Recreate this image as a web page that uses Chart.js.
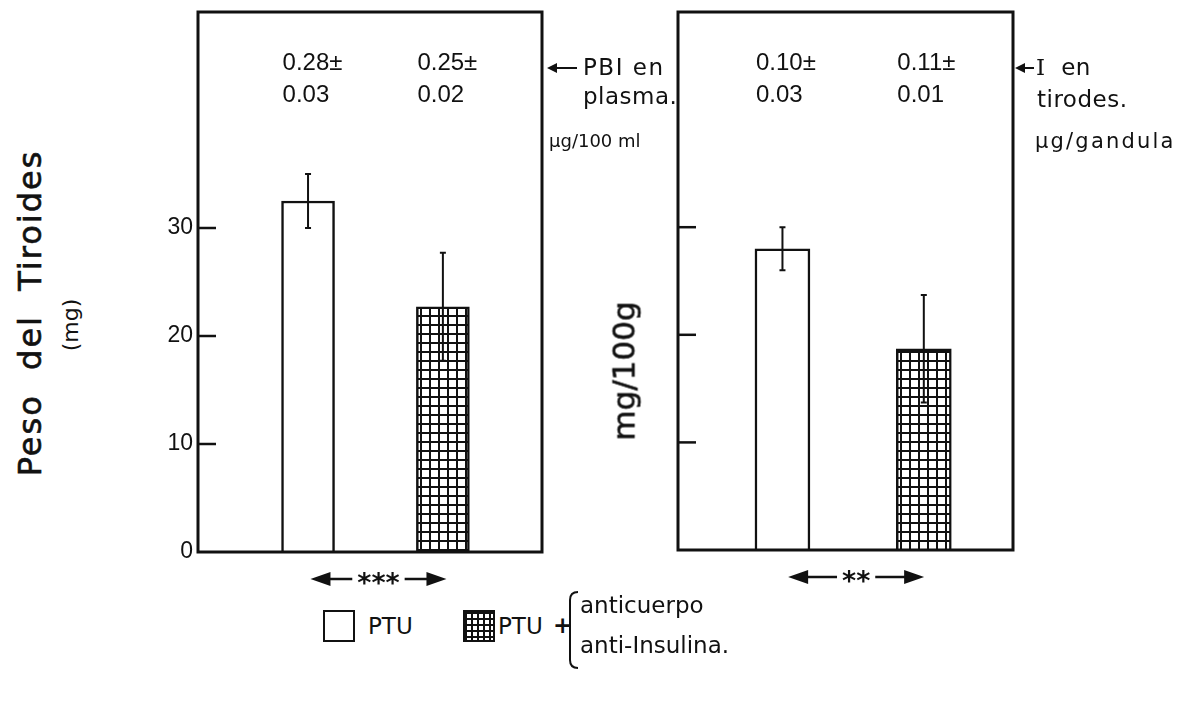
<!DOCTYPE html>
<html>
<head>
<meta charset="utf-8">
<script src="https://cdn.jsdelivr.net/npm/chart.js@4.4.1/dist/chart.umd.min.js"></script>
<style>
  body { margin: 0; background: #fff; }
  #page { position: relative; width: 1195px; height: 701px; overflow: hidden; background: #fff; color: #111; }
  .abs { position: absolute; white-space: nowrap; line-height: 1; }
  .note { font-family: "DejaVu Sans", sans-serif; font-size: 23px; letter-spacing: 0.5px; }
  .unit { font-family: "DejaVu Sans", sans-serif; font-size: 18px; }
  .rot { transform: translate(-50%, -50%) rotate(-90deg); }
  .leg { font-family: "DejaVu Sans", sans-serif; font-size: 23px; }
  .box { position: absolute; width: 28px; height: 28px; border: 2px solid #111; background: #fff; }
  .hatch {
    background-color: #fff;
    background-image: linear-gradient(#111 2px, transparent 2px), linear-gradient(90deg, #111 2px, transparent 2px);
    background-size: 6px 6px;
  }
  canvas { position: absolute; }
</style>
</head>
<body>
<div id="page">
  <canvas id="leftChart" style="left:150px; top:0px;" width="400" height="600"></canvas>
  <canvas id="rightChart" style="left:630px; top:0px;" width="395" height="600"></canvas>

  <!-- axis titles -->
  <div class="abs rot" style="left:30px; top:313px; font-family:'DejaVu Sans',sans-serif; font-size:32px; letter-spacing:2px; -webkit-text-stroke:0.6px #111;">Peso&nbsp; del&nbsp; Tiroides</div>
  <div class="abs rot" style="left:71px; top:325px; font-family:'DejaVu Sans',sans-serif; font-size:22px;">(mg)</div>
  <div class="abs rot" style="left:624px; top:371px; font-family:'DejaVu Sans',sans-serif; font-size:31px; -webkit-text-stroke:0.6px #111;">mg/100g</div>

  <!-- side notes -->
  <svg class="abs" style="left:547px; top:62px;" width="32" height="12"><polygon points="0,6 10,1 10,11" fill="#111"/><line x1="8" y1="6" x2="30" y2="6" stroke="#111" stroke-width="2"/></svg>
  <div class="abs note" style="left:583px; top:56px; letter-spacing:1.5px;">PBI en</div>
  <div class="abs note" style="left:583px; top:85px;">plasma.</div>
  <div class="abs unit" style="left:549px; top:132px;">µg/100 ml</div>

  <svg class="abs" style="left:1015px; top:62px;" width="20" height="12"><polygon points="0,6 10,1 10,11" fill="#111"/><line x1="8" y1="6" x2="19" y2="6" stroke="#111" stroke-width="2"/></svg>
  <div class="abs note" style="left:1036px; top:56px; font-family:'DejaVu Serif',serif;">I&nbsp; <span style="font-family:'DejaVu Sans',sans-serif;">en</span></div>
  <div class="abs note" style="left:1037px; top:88px;">tirodes.</div>
  <div class="abs unit" style="left:1035px; top:131px; font-size:21px; letter-spacing:2.2px;">µg/gandula</div>

  <!-- legend -->
  <div class="box" style="left:323px; top:610px;"></div>
  <div class="abs leg" style="left:368px; top:615px;">PTU</div>
  <div class="box hatch" style="left:463px; top:610px;"></div>
  <div class="abs leg" style="left:498px; top:615px;">PTU</div>
  <div class="abs leg" style="left:553px; top:614px; font-weight:bold;">+</div>
  <svg class="abs" style="left:566px; top:590px;" width="14" height="80"><path d="M12,2 Q4,2 4,10 L4,70 Q4,78 12,78" fill="none" stroke="#111" stroke-width="2"/></svg>
  <div class="abs leg" style="left:580px; top:594px;">anticuerpo</div>
  <div class="abs leg" style="left:580px; top:634px;">anti-Insulina.</div>
</div>

<script>
// groups and values
const categories = ['PTU', 'PTU + anticuerpo anti-Insulina'];

// left panel: thyroid weight (mg)
const pesoMean = [32.5, 22.7];
const pesoErr = [2.5, 5.0];
const pbiMean = ['0.28±', '0.25±'];
const pbiErr = ['0.03', '0.02'];

// right panel: mg/100g
const relMean = [28.0, 18.7];
const relErr = [2.0, 5.0];
const iodoMean = ['0.10±', '0.11±'];
const iodoErr = ['0.03', '0.01'];

const sigLeft = '***';
const sigRight = '**';

const yTicks = [0, 10, 20, 30];

// crossed pattern for the anti-insulin bars
function gridPattern() {
    var c = document.createElement('canvas');
    c.width = 9;
    c.height = 9;
    var g = c.getContext('2d');
    g.fillStyle = '#fff';
    g.fillRect(0, 0, 9, 9);
    g.fillStyle = '#111';
    g.fillRect(0, 0, 9, 2);
    g.fillRect(0, 0, 2, 9);
    return g.createPattern(c, 'repeat');
}

// frame, inner ticks, error bars, value notes and significance arrows
const panelPlugin = {
    id: 'panel',
    afterDatasetsDraw(chart, args, opts) {
        const ctx = chart.ctx;
        const area = chart.chartArea;
        const y = chart.scales.y;
        const meta = chart.getDatasetMeta(0);
        ctx.save();
        ctx.strokeStyle = '#111';
        ctx.fillStyle = '#111';

        // error bars
        ctx.lineWidth = 2;
        meta.data.forEach((bar, i) => {
            const top = y.getPixelForValue(opts.mean[i] + opts.err[i]);
            const bot = y.getPixelForValue(opts.mean[i] - opts.err[i]);
            ctx.beginPath();
            ctx.moveTo(bar.x, top);
            ctx.lineTo(bar.x, bot);
            ctx.moveTo(bar.x - 3, top);
            ctx.lineTo(bar.x + 3, top);
            ctx.moveTo(bar.x - 3, bot);
            ctx.lineTo(bar.x + 3, bot);
            ctx.stroke();
        });

        // box around the plot
        ctx.lineWidth = 3;
        ctx.strokeRect(area.left, area.top, area.right - area.left, area.bottom - area.top);

        // tick marks pointing inwards
        ctx.lineWidth = 2.5;
        yTicks.slice(1).forEach(v => {
            const py = y.getPixelForValue(v);
            ctx.beginPath();
            ctx.moveTo(area.left, py);
            ctx.lineTo(area.left + 18, py);
            ctx.stroke();
        });

        // numbers printed over each bar
        ctx.font = '24px "Liberation Sans Narrow", "Liberation Sans", sans-serif';
        ctx.textBaseline = 'middle';
        ctx.textAlign = 'left';
        meta.data.forEach((bar, i) => {
            const x0 = bar.x - bar.width / 2 + 1;
            ctx.fillText(opts.note1[i], x0, 63);
            ctx.fillText(opts.note2[i], x0, 95);
        });

        // significance marker under the bars
        const cx = (meta.data[0].x + meta.data[1].x) / 2 + 3;
        const cy = area.bottom + 27;
        const half = 68;
        ctx.font = 'bold 27px "DejaVu Sans", sans-serif';
        ctx.textAlign = 'center';
        const sw = ctx.measureText(opts.sig).width;
        ctx.fillText(opts.sig, cx, cy + 6);
        ctx.beginPath();
        ctx.moveTo(cx - half, cy);
        ctx.lineTo(cx - half + 20, cy - 7);
        ctx.lineTo(cx - half + 20, cy + 7);
        ctx.closePath();
        ctx.moveTo(cx + half, cy);
        ctx.lineTo(cx + half - 20, cy - 7);
        ctx.lineTo(cx + half - 20, cy + 7);
        ctx.closePath();
        ctx.fill();
        ctx.lineWidth = 2.5;
        ctx.beginPath();
        ctx.moveTo(cx - half + 18, cy);
        ctx.lineTo(cx - sw / 2 - 5, cy);
        ctx.moveTo(cx + sw / 2 + 5, cy);
        ctx.lineTo(cx + half - 18, cy);
        ctx.stroke();
        ctx.restore();
    }
};

function drawPanel(canvasId, means, errs, note1, note2, sig, showLabels, xRange, pad, thickness) {
    var ctx = document.getElementById(canvasId).getContext('2d');
    var data = {
        datasets: [{
            data: means.map((v, i) => ({ x: i, y: v })),
            backgroundColor: ['#fff', gridPattern()],
            borderColor: '#111',
            borderWidth: 2.5,
            borderSkipped: 'bottom',
            barThickness: thickness
        }]
    };
    var options = {
        responsive: false,
        animation: false,
        events: [],
        layout: { padding: pad },
        plugins: {
            legend: { display: false },
            tooltip: { enabled: false },
            panel: { mean: means, err: errs, note1: note1, note2: note2, sig: sig }
        },
        scales: {
            x: {
                type: 'linear',
                display: false,
                offset: false,
                min: xRange[0],
                max: xRange[1]
            },
            y: {
                min: 0,
                max: 50,
                grid: { display: false, drawTicks: false },
                border: { display: false },
                ticks: {
                    display: showLabels,
                    stepSize: 10,
                    padding: 5,
                    color: '#111',
                    font: { family: '"Liberation Sans Narrow", "Liberation Sans", sans-serif', size: 23 },
                    callback: v => (yTicks.includes(v) ? v : '')
                },
                afterFit: scale => {
                    scale.width = 48;
                    scale.paddingTop = 0;
                    scale.paddingBottom = 0;
                }
            }
        }
    };
    return new Chart(ctx, {
        type: 'bar',
        data: data,
        options: options,
        plugins: [panelPlugin]
    });
}

drawPanel('leftChart', pesoMean, pesoErr, pbiMean, pbiErr, sigLeft, true,
    [-0.816, 1.735], { top: 12, right: 8, bottom: 48, left: 0 }, 53);
drawPanel('rightChart', relMean, relErr, iodoMean, iodoErr, sigRight, false,
    [-0.739, 1.631], { top: 12, right: 12, bottom: 50, left: 0 }, 55);
</script>
</body>
</html>
